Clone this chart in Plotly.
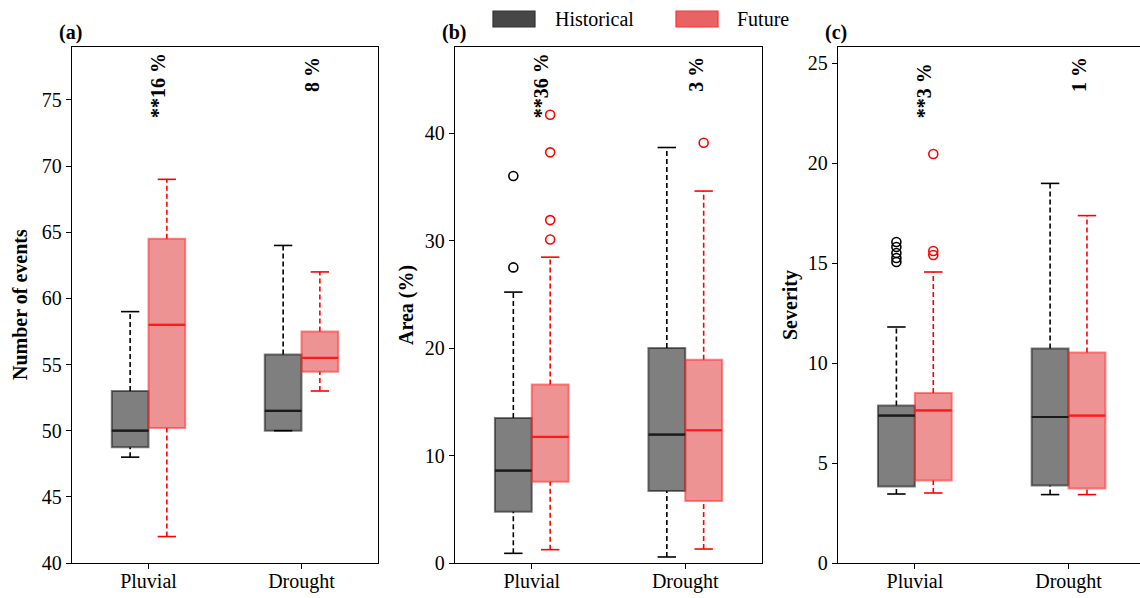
import plotly.graph_objects as go

# ---------------- data ----------------
categories = ["Pluvial", "Drought"]
# five-number summaries per category: [lower whisker, q1, median, q3, upper whisker]
events_hist = [[48.0, 48.75, 50.0, 53.0, 59.0], [50.0, 50.0, 51.5, 55.75, 64.0]]
events_fut = [[42.0, 50.2, 58.0, 64.5, 69.0], [53.0, 54.45, 55.5, 57.5, 62.0]]
area_hist = [[0.9, 4.76, 8.6, 13.5, 25.2], [0.56, 6.7, 11.95, 20.0, 38.65]]
area_fut = [[1.24, 7.55, 11.73, 16.6, 28.45], [1.3, 5.76, 12.35, 18.9, 34.6]]
sev_hist = [[3.45, 3.83, 7.37, 7.88, 11.8], [3.42, 3.87, 7.3, 10.72, 18.98]]
sev_fut = [[3.5, 4.13, 7.63, 8.5, 14.55], [3.42, 3.72, 7.37, 10.52, 17.37]]
# outliers per category
events_hist_out = [[], []]
events_fut_out = [[], []]
area_hist_out = [[27.5, 36.0], []]
area_fut_out = [[30.1, 31.9, 38.2, 41.7], [39.1]]
sev_hist_out = [[15.05, 15.25, 15.5, 15.8, 16.05], []]
sev_fut_out = [[15.4, 15.6, 20.45], []]
# change labels
events_change = ["**16 %", "8 %"]
area_change = ["**36 %", "3 %"]
sev_change = ["**3 %", "1 %"]
ylabels = ["Number of events", "Area (%)", "Severity"]
panel_labels = ["(a)", "(b)", "(c)"]
series_names = ["Historical", "Future"]

# ---------------- style ----------------
W, H = 1140, 598
FONT = "Liberation Serif"
BW = 0.24
OFF = 0.12
CAP = 0.06
styles = {
    "hist": dict(fill="rgba(0,0,0,0.5)", edge="rgba(0,0,0,0.5)", med="#1a1a1a", wh="black"),
    "fut": dict(fill="rgba(222,40,40,0.5)", edge="rgba(255,40,40,0.55)", med="#ff1a1a", wh="#ff0000"),
}

panels = [
    dict(h=events_hist, f=events_fut, ho=events_hist_out, fo=events_fut_out, ch=events_change,
         yr=[40, 79], dt=5, px=(72, 378), xr=[-0.5, 1.5], mirror=True, tx=20),
    dict(h=area_hist, f=area_fut, ho=area_hist_out, fo=area_fut_out, ch=area_change,
         yr=[0, 48], dt=10, px=(455, 762), xr=[-0.5, 1.5], mirror=True, tx=406),
    dict(h=sev_hist, f=sev_fut, ho=sev_hist_out, fo=sev_fut_out, ch=sev_change,
         yr=[0, 25.8], dt=5, px=(838, 1140), xr=[-0.5, 1.465], mirror=False, tx=790),
]
top_px, bot_px = 47, 563
ydom = [(H - bot_px) / H, (H - top_px) / H]

fig = go.Figure()
layout = {}
annotations = []
shapes = []

for i, p in enumerate(panels):
    sfx = "" if i == 0 else str(i + 1)
    xa, ya = "x" + sfx, "y" + sfx
    for key, stats, outs, sign in (("hist", p["h"], p["ho"], -1), ("fut", p["f"], p["fo"], 1)):
        st = styles[key]
        xs = [c + sign * OFF for c in range(len(categories))]
        lo = [s[0] for s in stats]
        q1 = [s[1] for s in stats]
        md = [s[2] for s in stats]
        q3 = [s[3] for s in stats]
        hi = [s[4] for s in stats]
        fig.add_trace(go.Box(
            x=xs, q1=q1, median=md, q3=q3, lowerfence=q1, upperfence=q3,
            width=BW, fillcolor=st["fill"], line=dict(color=st["edge"], width=2),
            whiskerwidth=0, boxpoints=False, showlegend=False, hoverinfo="skip",
            xaxis=xa, yaxis=ya))
        # dashed whiskers
        wx, wy = [], []
        for x, a, b, c_, d in zip(xs, lo, q1, q3, hi):
            wx += [x, x, None, x, x, None]
            wy += [a, b, None, c_, d, None]
        fig.add_trace(go.Scatter(x=wx, y=wy, mode="lines",
                                 line=dict(color=st["wh"], width=1.6, dash="5px,3px"),
                                 showlegend=False, hoverinfo="skip", xaxis=xa, yaxis=ya))
        # caps
        cx, cy = [], []
        for x, a, d in zip(xs, lo, hi):
            cx += [x - CAP, x + CAP, None, x - CAP, x + CAP, None]
            cy += [a, a, None, d, d, None]
        fig.add_trace(go.Scatter(x=cx, y=cy, mode="lines",
                                 line=dict(color=st["wh"], width=1.6),
                                 showlegend=False, hoverinfo="skip", xaxis=xa, yaxis=ya))
        # medians
        mx, my = [], []
        for x, m in zip(xs, md):
            mx += [x - BW / 2, x + BW / 2, None]
            my += [m, m, None]
        fig.add_trace(go.Scatter(x=mx, y=my, mode="lines",
                                 line=dict(color=st["med"], width=2.2),
                                 showlegend=False, hoverinfo="skip", xaxis=xa, yaxis=ya))
        # outliers
        ox, oy = [], []
        for x, ol in zip(xs, outs):
            ox += [x] * len(ol)
            oy += ol
        if ox:
            fig.add_trace(go.Scatter(x=ox, y=oy, mode="markers",
                                     marker=dict(symbol="circle-open", size=9,
                                                 color=st["wh"], line=dict(width=1.6, color=st["wh"])),
                                     showlegend=False, hoverinfo="skip", xaxis=xa, yaxis=ya))
    # axes
    xdom = [p["px"][0] / W, p["px"][1] / W]
    layout["xaxis" + sfx] = dict(
        domain=xdom, range=p["xr"], tickmode="array", tickvals=list(range(len(categories))),
        ticktext=categories, showline=True, linecolor="black", linewidth=1.3, mirror=True,
        ticks="outside", ticklen=5, tickwidth=1.2, tickcolor="black", showgrid=False,
        zeroline=False, anchor=ya, automargin=False, ticklabelstandoff=-5,
        tickfont=dict(family=FONT, size=20, color="black"), fixedrange=True)
    layout["yaxis" + sfx] = dict(
        domain=ydom, range=p["yr"], dtick=p["dt"], tick0=0, showline=True, linecolor="black",
        linewidth=1.3, mirror=p["mirror"], ticks="outside", ticklen=5, tickwidth=1.2,
        tickcolor="black", showgrid=False, zeroline=False, anchor=xa, automargin=False,
        tickfont=dict(family=FONT, size=20, color="black"), fixedrange=True)
    # y-axis title
    annotations.append(dict(
        x=p["tx"] / W, y=(ydom[0] + ydom[1]) / 2, xref="paper", yref="paper",
        text="<b>" + ylabels[i] + "</b>", textangle=-90, showarrow=False,
        xanchor="center", yanchor="middle", font=dict(family=FONT, size=20, color="black")))
    # change labels
    for c, txt in enumerate(p["ch"]):
        bottom_px = 120 if txt.startswith("**") else 94
        annotations.append(dict(
            x=c, y=(bot_px - bottom_px) / (bot_px - top_px), xref=xa, yref=ya + " domain",
            text="<b>" + txt + "</b>", textangle=-90, showarrow=False, xshift=-3,
            xanchor="left", yanchor="bottom", font=dict(family=FONT, size=20, color="black")))
    # panel label
    annotations.append(dict(
        x=(p["px"][0] - 15) / W, y=(H - 33) / H, xref="paper", yref="paper",
        text="<b>" + panel_labels[i] + "</b>", showarrow=False, xanchor="left", yanchor="middle",
        font=dict(family=FONT, size=20, color="black")))

# manual legend (wide patches)
leg = [(493, 535, 553, "#474747", "#333333"), (676, 718, 735, "#e86464", "#ff3030")]
for (x0, x1, tx, fc, ec), name in zip(leg, series_names):
    shapes.append(dict(type="rect", xref="paper", yref="paper",
                       x0=x0 / W, x1=x1 / W, y0=(H - 27) / H, y1=(H - 11) / H,
                       fillcolor=fc, line=dict(color=ec, width=1.2)))
    annotations.append(dict(x=tx / W, y=(H - 19) / H, xref="paper", yref="paper", text=name,
                            showarrow=False, xanchor="left", yanchor="middle",
                            font=dict(family=FONT, size=20, color="black")))

fig.update_layout(
    width=W, height=H, margin=dict(l=0, r=0, t=0, b=0, autoexpand=False),
    paper_bgcolor="white", plot_bgcolor="white", boxmode="overlay",
    showlegend=False, annotations=annotations, shapes=shapes,
    font=dict(family=FONT, size=20, color="black"), **layout)

fig.write_html("out.html", config={"displayModeBar": False},
               post_script="document.body.style.margin='0';document.body.style.overflow='hidden';")
